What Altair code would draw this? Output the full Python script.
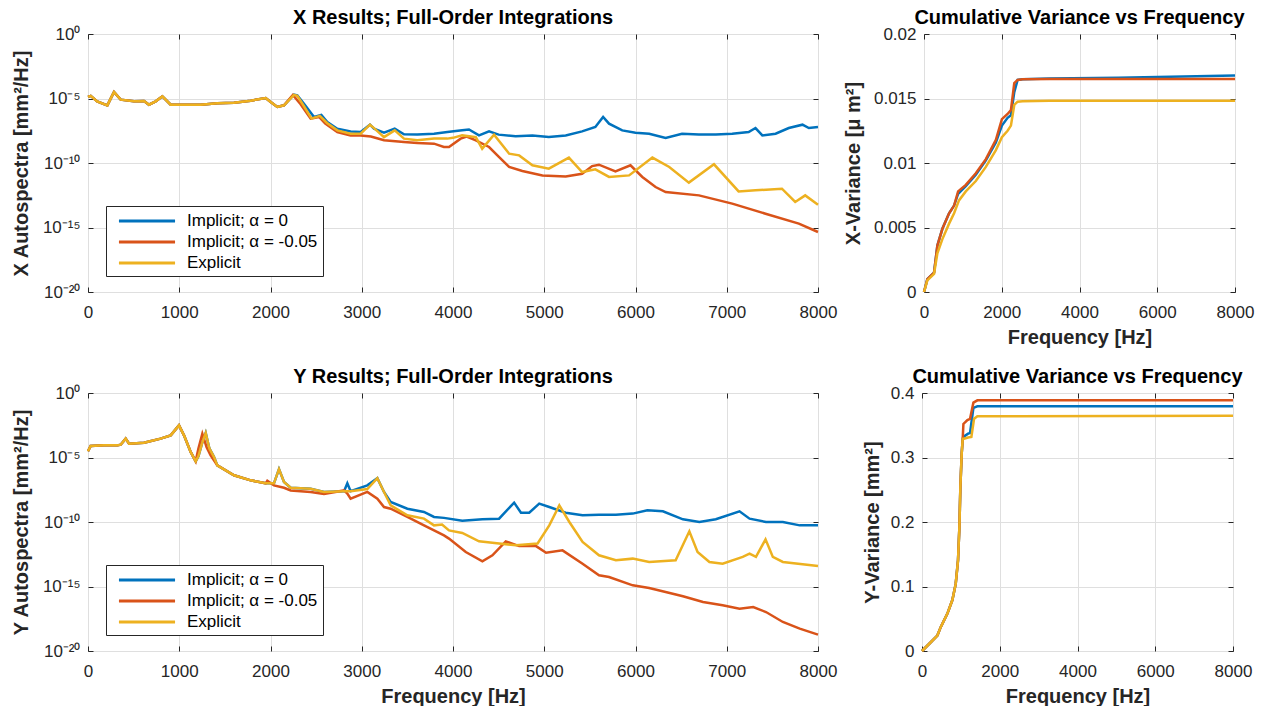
import altair as alt
import pandas as pd

# ---------------- series / colours ----------------
SERIES = ["Implicit; α = 0", "Implicit; α = -0.05", "Explicit"]
COLORS = ["#0072BD", "#D95319", "#EDB120"]

# ---------------- log-axis ticks ----------------
LOG_TICK_EXP = [-20, -15, -10, -5, 0]
LOG_TICK_LABELS = ["10⁻²⁰", "10⁻¹⁵", "10⁻¹⁰", "10⁻⁵", "10⁰"]

# ---------------- X autospectra (log10 of mm^2/Hz) ----------------
X_BLUE_F = [0, 30, 100, 212, 285, 358, 504, 614, 668, 742, 815, 906, 1052, 1235, 1417, 1600, 1783, 1947,
            2002, 2075, 2148, 2258, 2294, 2367, 2477, 2557, 2623, 2732, 2878, 2988, 3090, 3134, 3244, 3361,
            3463, 3609, 3792, 3938, 4100, 4175, 4285, 4395, 4500, 4686, 4870, 5050, 5235, 5415, 5560, 5645,
            5710, 5855, 6000, 6150, 6330, 6510, 6695, 6880, 7060, 7240, 7315, 7390, 7535, 7680, 7830, 7900, 8000]
X_BLUE_E = [-4.88, -4.80, -5.22, -5.53, -4.50, -5.09, -5.22, -5.19, -5.48, -5.22, -4.83, -5.48, -5.48, -5.48,
            -5.37, -5.32, -5.17, -4.96, -5.27, -5.66, -5.53, -4.70, -4.75, -5.40, -6.43, -6.27, -6.82, -7.34,
            -7.55, -7.60, -7.03, -7.34, -7.65, -7.34, -7.78, -7.80, -7.73, -7.60, -7.47, -7.40, -7.86, -7.55,
            -7.80, -7.93, -7.86, -7.99, -7.86, -7.55, -7.21, -6.43, -6.95, -7.47, -7.65, -7.73, -8.06, -7.73,
            -7.80, -7.80, -7.73, -7.60, -7.29, -7.86, -7.73, -7.29, -7.03, -7.29, -7.21]

X_RED_F = [0, 30, 100, 212, 285, 358, 504, 614, 668, 742, 815, 906, 1052, 1235, 1417, 1600, 1783, 1947,
           2002, 2075, 2148, 2245, 2330, 2440, 2532, 2600, 2732, 2878, 2988, 3100, 3244, 3463, 3609, 3792,
           3900, 3956, 4084, 4150, 4250, 4395, 4500, 4615, 4760, 4980, 5235, 5415, 5525, 5600, 5780, 5945,
           6075, 6220, 6330, 6695, 7060, 7425, 7790, 8000]
X_RED_E = [-4.88, -4.80, -5.22, -5.53, -4.50, -5.09, -5.22, -5.19, -5.48, -5.22, -4.83, -5.48, -5.48, -5.48,
           -5.37, -5.32, -5.17, -4.96, -5.27, -5.66, -5.53, -4.72, -5.45, -6.56, -6.43, -6.95, -7.60, -7.86,
           -7.86, -7.95, -8.24, -8.37, -8.45, -8.50, -8.76, -8.76, -8.11, -7.95, -8.24, -8.76, -9.50, -10.30,
           -10.62, -10.96, -11.04, -10.83, -10.24, -10.13, -10.65, -10.18, -11.08, -11.86, -12.25, -12.51,
           -13.15, -13.93, -14.70, -15.35]

X_YEL_F = [0, 30, 100, 212, 285, 358, 504, 614, 668, 742, 815, 906, 1052, 1235, 1417, 1600, 1783, 1947,
           2002, 2075, 2148, 2258, 2294, 2367, 2450, 2540, 2620, 2732, 2878, 2988, 3090, 3134, 3244, 3361,
           3463, 3609, 3792, 3938, 4000, 4100, 4250, 4320, 4450, 4615, 4725, 4870, 5050, 5270, 5415, 5560,
           5710, 5930, 6185, 6370, 6585, 6860, 7130, 7315, 7605, 7750, 7860, 8000]
X_YEL_E = [-4.88, -4.80, -5.22, -5.53, -4.50, -5.09, -5.22, -5.19, -5.48, -5.22, -4.83, -5.48, -5.48, -5.48,
           -5.37, -5.32, -5.17, -4.96, -5.27, -5.66, -5.53, -4.72, -4.80, -5.60, -6.56, -6.35, -6.90, -7.47,
           -7.73, -7.73, -7.03, -7.30, -7.99, -7.47, -8.11, -8.24, -8.11, -8.11, -8.05, -7.86, -7.99, -8.89,
           -7.80, -9.28, -9.41, -10.18, -10.44, -9.58, -10.70, -10.49, -11.08, -10.96, -9.58, -10.31, -11.52,
           -10.10, -12.20, -12.12, -11.99, -13.02, -12.51, -13.23]

# ---------------- Y autospectra (log10 of mm^2/Hz) ----------------
Y_BLUE_F = [0, 29, 175, 322, 358, 413, 450, 614, 796, 906, 997, 1052, 1125, 1180, 1210, 1250, 1290, 1330,
            1380, 1417, 1600, 1783, 1947, 2038, 2093, 2148, 2221, 2440, 2586, 2806, 2842, 2878, 3061, 3171,
            3244, 3317, 3500, 3682, 3792, 3901, 4102, 4322, 4505, 4670, 4745, 4835, 4945, 5055, 5235, 5420,
            5600, 5785, 5970, 6130, 6300, 6520, 6700, 6880, 7140, 7250, 7430, 7615, 7800, 8000]
Y_BLUE_E = [-4.52, -4.10, -4.06, -4.06, -4.01, -3.54, -3.93, -3.85, -3.54, -3.28, -2.51, -3.28, -4.57, -5.30,
            -4.90, -3.90, -3.10, -4.30, -4.95, -5.61, -6.38, -6.77, -7.00, -7.00, -5.90, -6.90, -7.35, -7.42,
            -7.67, -7.61, -7.00, -7.61, -7.16, -6.60, -7.67, -8.45, -8.97, -9.22, -9.61, -9.68, -9.90, -9.79,
            -9.74, -8.50, -9.28, -9.28, -8.58, -8.84, -9.28, -9.48, -9.43, -9.43, -9.35, -9.09, -9.17, -9.79,
            -10.00, -9.79, -9.17, -9.74, -10.00, -10.00, -10.26, -10.26]

Y_RED_F = [0, 29, 175, 322, 358, 413, 450, 614, 796, 906, 997, 1052, 1125, 1180, 1210, 1253, 1300, 1344,
           1417, 1600, 1783, 1947, 1965, 2038, 2148, 2221, 2440, 2586, 2806, 2842, 2878, 3061, 3171, 3244,
           3317, 3500, 3682, 3792, 3901, 3956, 4140, 4322, 4432, 4578, 4725, 4910, 5020, 5200, 5420, 5600,
           5710, 5970, 6150, 6330, 6520, 6740, 6955, 7140, 7290, 7430, 7615, 7800, 8000]
Y_RED_E = [-4.52, -4.10, -4.06, -4.06, -4.01, -3.54, -3.93, -3.85, -3.54, -3.28, -2.51, -3.28, -4.57, -5.30,
           -4.30, -3.15, -4.20, -4.83, -5.61, -6.38, -6.77, -7.00, -6.80, -7.16, -7.35, -7.55, -7.67, -7.82,
           -7.55, -7.80, -8.19, -7.67, -8.19, -8.84, -8.97, -9.61, -10.26, -10.65, -11.04, -11.29, -12.33,
           -13.05, -12.58, -11.50, -11.87, -11.87, -12.38, -12.20, -13.23, -14.13, -14.26, -14.91, -15.12,
           -15.43, -15.76, -16.20, -16.46, -16.72, -16.59, -16.98, -17.75, -18.27, -18.73]

Y_YEL_F = [0, 29, 175, 322, 358, 413, 450, 614, 796, 906, 997, 1052, 1125, 1180, 1210, 1250, 1290, 1330,
           1380, 1417, 1600, 1783, 1947, 2038, 2093, 2148, 2221, 2440, 2586, 2806, 2878, 3061, 3171, 3244,
           3317, 3500, 3682, 3792, 3880, 3956, 4102, 4285, 4505, 4690, 4927, 5055, 5165, 5275, 5420, 5600,
           5785, 5970, 6150, 6440, 6590, 6680, 6810, 6955, 7175, 7250, 7320, 7425, 7505, 7615, 8000]
Y_YEL_E = [-4.52, -4.10, -4.06, -4.06, -4.01, -3.54, -3.93, -3.85, -3.54, -3.28, -2.51, -3.28, -4.57, -5.30,
           -4.90, -3.90, -3.10, -4.30, -4.95, -5.61, -6.38, -6.77, -7.00, -7.00, -5.90, -6.90, -7.35, -7.42,
           -7.67, -7.61, -7.61, -7.45, -6.60, -7.67, -8.71, -9.48, -9.74, -10.26, -10.20, -10.65, -10.85,
           -11.50, -11.67, -11.80, -11.67, -10.26, -8.71, -10.00, -11.55, -12.58, -12.97, -12.84, -13.10,
           -12.97, -10.72, -12.33, -13.10, -13.23, -12.71, -12.46, -12.71, -11.34, -12.71, -13.10, -13.41]

# ---------------- cumulative variance, X [um^2] ----------------
CX_BLUE_F = [0, 86, 258, 344, 473, 645, 774, 877, 1075, 1333, 1591, 1849, 2004, 2150, 2236, 2322, 2408, 2537, 3225, 5000, 8000]
CX_BLUE_V = [0, 0.0010, 0.0015, 0.0036, 0.0049, 0.0061, 0.0067, 0.0076, 0.0082, 0.0091, 0.0102, 0.0116, 0.0129,
             0.0135, 0.0137, 0.0155, 0.01644, 0.0165, 0.01655, 0.0166, 0.01678]
CX_RED_F = [0, 86, 258, 344, 473, 645, 774, 877, 1075, 1333, 1591, 1849, 2004, 2150, 2236, 2322, 2408, 2537, 3225, 8000]
CX_RED_V = [0, 0.0010, 0.0015, 0.0036, 0.0049, 0.0061, 0.0067, 0.0078, 0.0083, 0.0092, 0.0103, 0.0118, 0.0134,
            0.0138, 0.0141, 0.0162, 0.01644, 0.0165, 0.01652, 0.01652]
CX_YEL_F = [0, 86, 258, 344, 473, 645, 774, 900, 1075, 1333, 1591, 1849, 2004, 2150, 2236, 2322, 2408, 2537, 3225, 8000]
CX_YEL_V = [0, 0.0009, 0.0014, 0.0030, 0.0041, 0.0053, 0.0061, 0.0071, 0.0078, 0.0086, 0.0097, 0.0110, 0.0120,
            0.0125, 0.0129, 0.0145, 0.01475, 0.01478, 0.01483, 0.01482]

# ---------------- cumulative variance, Y [mm^2] ----------------
CY_BLUE_F = [0, 200, 395, 481, 653, 781, 867, 927, 962, 987, 1021, 1047, 1065, 1185, 1236, 1322, 1425, 8000]
CY_BLUE_V = [0, 0.012, 0.024, 0.037, 0.058, 0.079, 0.104, 0.141, 0.192, 0.254, 0.306, 0.329, 0.332, 0.337,
             0.338, 0.377, 0.3793, 0.3793]
CY_RED_F = [0, 200, 395, 481, 653, 781, 867, 927, 962, 987, 1021, 1047, 1065, 1168, 1236, 1322, 1425, 8000]
CY_RED_V = [0, 0.012, 0.024, 0.037, 0.058, 0.079, 0.104, 0.141, 0.192, 0.254, 0.306, 0.329, 0.352, 0.358,
            0.360, 0.385, 0.3886, 0.3886]
CY_YEL_F = [0, 200, 395, 481, 653, 781, 867, 927, 962, 987, 1021, 1047, 1081, 1185, 1270, 1339, 1425, 8000]
CY_YEL_V = [0, 0.012, 0.024, 0.037, 0.058, 0.079, 0.104, 0.141, 0.192, 0.254, 0.306, 0.329, 0.329, 0.331,
            0.332, 0.360, 0.364, 0.3649]

FONT = "Liberation Sans"
INK = "#262626"
TICK = 5


def frame(triples, log=False):
    rows = []
    for name, fs, vs in triples:
        for f, v in zip(fs, vs):
            rows.append({"f": f, "v": 10 ** v if log else v, "series": name})
    return pd.DataFrame(rows)


df_xs = frame([(SERIES[0], X_BLUE_F, X_BLUE_E), (SERIES[1], X_RED_F, X_RED_E), (SERIES[2], X_YEL_F, X_YEL_E)], log=True)
df_ys = frame([(SERIES[0], Y_BLUE_F, Y_BLUE_E), (SERIES[1], Y_RED_F, Y_RED_E), (SERIES[2], Y_YEL_F, Y_YEL_E)], log=True)
df_xc = frame([(SERIES[0], CX_BLUE_F, CX_BLUE_V), (SERIES[1], CX_RED_F, CX_RED_V), (SERIES[2], CX_YEL_F, CX_YEL_V)])
df_yc = frame([(SERIES[0], CY_BLUE_F, CY_BLUE_V), (SERIES[1], CY_RED_F, CY_RED_V), (SERIES[2], CY_YEL_F, CY_YEL_V)])

log_expr = " : ".join(
    f"round(log(datum.value)/LN10) == {e} ? '{lab}'" for e, lab in zip(LOG_TICK_EXP, LOG_TICK_LABELS)
) + " : ''"

LEFT_W, RIGHT_W, H = 730, 311, 258
X_SCALE = alt.Scale(domain=[0, 8000], nice=False, zero=False)


def make_title(text):
    return alt.Title(text, anchor="middle", frame="group", fontSize=20, fontWeight="bold",
                     font=FONT, color="#000000", baseline="alphabetic", offset=-19)


def panel(df, title, width, xvals, xtitle, yscale, yvals, yaxis_kw, ytitle, title_x, legend):
    main = alt.Chart(df).mark_line(strokeWidth=2.5).encode(
        x=alt.X("f:Q", scale=X_SCALE,
                axis=alt.Axis(values=xvals, format="d", labelFlush=False, offset=-TICK,
                              title=xtitle, titleY=35 + TICK)),
        y=alt.Y("v:Q", scale=yscale,
                axis=alt.Axis(values=yvals, offset=-TICK, title=ytitle, titleX=title_x - TICK,
                              **yaxis_kw)),
        color=alt.Color("series:N", scale=alt.Scale(domain=SERIES, range=COLORS), legend=legend),
    )
    # second, invisible copy that carries the top / right tick marks of the box
    ghost = alt.Chart(df).mark_line(strokeOpacity=0).encode(
        x=alt.X("f:Q", scale=X_SCALE,
                axis=alt.Axis(values=xvals, orient="top", labels=False, grid=False, title=None,
                              offset=-TICK)),
        y=alt.Y("v:Q", scale=yscale,
                axis=alt.Axis(values=yvals, orient="right", labels=False, grid=False, title=None,
                              offset=-TICK)),
    )
    return alt.layer(main, ghost, title=make_title(title)).resolve_axis(
        x="independent", y="independent"
    ).properties(width=width, height=H)


def spectrum(df, title, ytitle, xtitle):
    legend = alt.Legend(
        title=None, orient="none", legendX=18, legendY=172, symbolType="M-3.3,0H3.3",
        symbolSize=289, symbolStrokeWidth=3, symbolOffset=26, labelOffset=30,
        labelFontSize=17, labelFont=FONT, labelColor="#000000",
        fillColor="white", strokeColor=INK, padding=5, rowPadding=3, cornerRadius=0,
    )
    return panel(df, title, LEFT_W, list(range(0, 8001, 1000)), xtitle,
                 alt.Scale(type="log", domain=[1e-20, 1], nice=False),
                 [10.0 ** e for e in LOG_TICK_EXP], {"labelExpr": log_expr}, ytitle, -57, legend)


def cumulative(df, title, ytitle, yticks, title_x):
    return panel(df, title, RIGHT_W, list(range(0, 8001, 2000)), "Frequency [Hz]",
                 alt.Scale(domain=[yticks[0], yticks[-1]], nice=False),
                 yticks, {"format": "~g"}, ytitle, title_x, None)


tl = spectrum(df_xs, "X Results; Full-Order Integrations", "X Autospectra [mm²/Hz]", None)
tr = cumulative(df_xc, "Cumulative Variance vs Frequency", "X-Variance [μ m²]",
                [0, 0.005, 0.01, 0.015, 0.02], -61)
bl = spectrum(df_ys, "Y Results; Full-Order Integrations", "Y Autospectra [mm²/Hz]", "Frequency [Hz]")
br = cumulative(df_yc, "Cumulative Variance vs Frequency", "Y-Variance [mm²]",
                [0, 0.1, 0.2, 0.3, 0.4], -40)

top = alt.hconcat(tl, tr, spacing=4).resolve_scale(color="independent").resolve_legend(color="independent")
bottom = alt.hconcat(bl, br, spacing=23).resolve_scale(color="independent").resolve_legend(color="independent")

chart = alt.vconcat(top, bottom, spacing=18).resolve_scale(color="independent").resolve_legend(
    color="independent"
).properties(
    padding={"left": 10, "top": 7, "right": 5, "bottom": 0}
).configure(
    font=FONT, background="white"
).configure_view(
    stroke=INK, strokeWidth=1
).configure_axis(
    grid=True, gridColor="#dfdfdf", gridWidth=1, domain=False,
    ticks=True, tickSize=TICK, tickColor=INK, tickWidth=1,
    labelFont=FONT, labelFontSize=17, labelColor=INK, labelPadding=8,
    titleFont=FONT, titleFontSize=20, titleFontWeight="bold", titleColor=INK,
).configure_axisX(
    labelPadding=12, titleBaseline="top"
).configure_axisY(
    titleBaseline="bottom"
)

chart.save("out.html", embed_options={"renderer": "svg", "actions": False})
